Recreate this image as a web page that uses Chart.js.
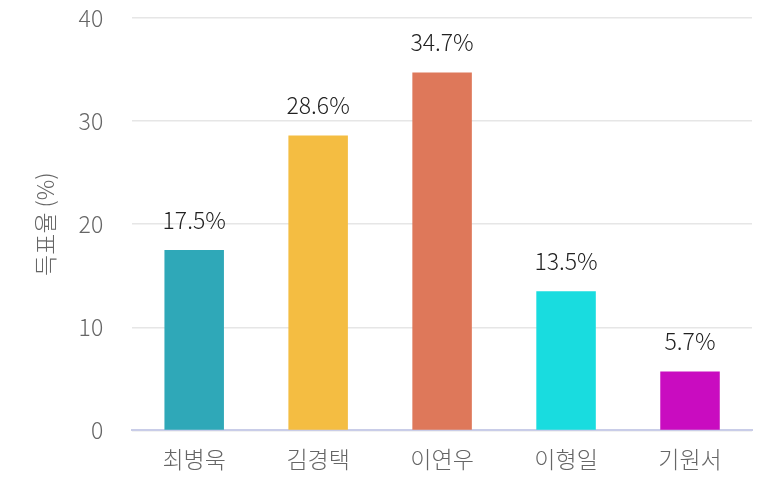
<!DOCTYPE html>
<html>
<head>
<meta charset="utf-8">
<script src="https://cdn.jsdelivr.net/npm/chart.js@4"></script>
<style>
  html, body { margin: 0; padding: 0; background: #fff; }
  #wrap { width: 773px; height: 502px; }
</style>
</head>
<body>
<div id="wrap"><canvas id="chart"></canvas></div>
<script>
const candidates = ["최병욱", "김경택", "이연우", "이형일", "기원서"];
const voteShare = [17.5, 28.6, 34.7, 13.5, 5.7];
const barColors = ["#2fa8b8", "#f4bd42", "#de785a", "#19dcdf", "#c90cc0"];
const yTicks = [0, 10, 20, 30, 40];

const FONT = "'Noto Sans CJK KR', 'Noto Sans', sans-serif";

// draws the % value above each bar
const valueLabels = {
  id: "valueLabels",
  afterDatasetsDraw(chart) {
    const ctx = chart.ctx;
    const meta = chart.getDatasetMeta(0);
    ctx.save();
    ctx.font = "300 23px " + FONT;
    ctx.fillStyle = "#222";
    ctx.textAlign = "center";
    ctx.textBaseline = "middle";
    meta.data.forEach((bar, i) => {
      ctx.fillText(voteShare[i].toFixed(1) + "%", bar.x, bar.y - 30);
    });
    ctx.restore();
  }
};

new Chart(document.getElementById("chart"), {
  type: "bar",
  data: {
    labels: candidates,
    datasets: [{
      data: voteShare,
      backgroundColor: barColors,
      barPercentage: 0.48,
      categoryPercentage: 1.0
    }]
  },
  options: {
    responsive: true,
    maintainAspectRatio: false,
    animation: false,
    layout: { padding: { top: 0, right: 21, bottom: 22, left: 31 } },
    plugins: {
      legend: { display: false },
      tooltip: { enabled: false }
    },
    scales: {
      x: {
        grid: { display: false },
        border: { color: "#c9cde8", width: 2 },
        ticks: { color: "#666", font: { family: FONT, size: 23, weight: 300 }, padding: 7 }
      },
      y: {
        min: 0,
        max: 40,
        afterBuildTicks: axis => { axis.ticks = yTicks.map(v => ({ value: v })); },
        grid: { color: "#e6e6e6", lineWidth: 1.5, tickLength: 25, tickColor: "rgba(0,0,0,0)" },
        border: { display: false },
        ticks: { color: "#666", font: { family: FONT, size: 23, weight: 300 }, padding: 4 },
        title: {
          display: true,
          text: "득표율 (%)",
          color: "#666",
          font: { family: FONT, size: 23, weight: 300 },
          padding: { top: 0, bottom: 16 }
        }
      }
    }
  },
  plugins: [valueLabels]
});
</script>
</body>
</html>
